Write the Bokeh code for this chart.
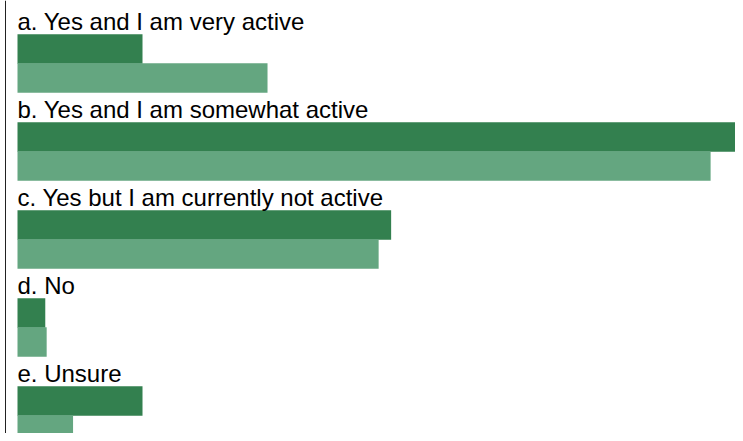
from bokeh.plotting import figure
from bokeh.models import Range1d, Span, ColumnDataSource
from bokeh.core.properties import value
from bokeh.embed import file_html
from bokeh.resources import INLINE
import numpy as np

categories = [
    "a. Yes and I am very active",
    "b. Yes and I am somewhat active",
    "c. Yes but I am currently not active",
    "d. No",
    "e. Unsure",
]
series_dark = [9.0, 53.1, 26.9, 2.0, 9.0]
series_light = [18.0, 49.9, 26.0, 2.1, 4.0]

DARK = "#33804f"
LIGHT = "#64a680"

W, H = 735, 433
PX_PER_UNIT = 13.89   # horizontal scale
X0_PX = 17            # pixel where value 0 sits
ROW_PX = 88           # height of one category row

idx = np.arange(len(categories))
src = ColumnDataSource(dict(
    label=categories,
    dark=series_dark,
    light=series_light,
    y_label=idx + 21 / ROW_PX,
    y_dark=idx + 48.5 / ROW_PX,
    y_light=idx + 77.5 / ROW_PX,
))

x_start = -X0_PX / PX_PER_UNIT
x_end = (W - X0_PX) / PX_PER_UNIT

p = figure(width=W, height=H, output_backend="svg", toolbar_location=None,
           x_range=Range1d(x_start, x_end), y_range=Range1d(H / ROW_PX, 0),
           min_border=0, min_border_left=0, min_border_right=0,
           min_border_top=0, min_border_bottom=0)
p.xaxis.visible = False
p.yaxis.visible = False
p.grid.visible = False
p.outline_line_color = None
p.background_fill_color = "white"
p.border_fill_color = "white"

bar_h = 29.5 / ROW_PX
p.hbar(y="y_dark", left=0, right="dark", height=bar_h, source=src,
       fill_color=DARK, line_color=None)
p.hbar(y="y_light", left=0, right="light", height=bar_h, source=src,
       fill_color=LIGHT, line_color=None)
p.text(x=0, y="y_label", text="label", source=src,
       text_font=value("Liberation Sans"), text_font_size="24px",
       text_color="black", text_align="left", text_baseline="alphabetic")

p.add_layout(Span(location=(5 - X0_PX) / PX_PER_UNIT, dimension="height",
                  line_color="#222222", line_width=1))

open("out.html", "w").write(file_html(p, INLINE))
